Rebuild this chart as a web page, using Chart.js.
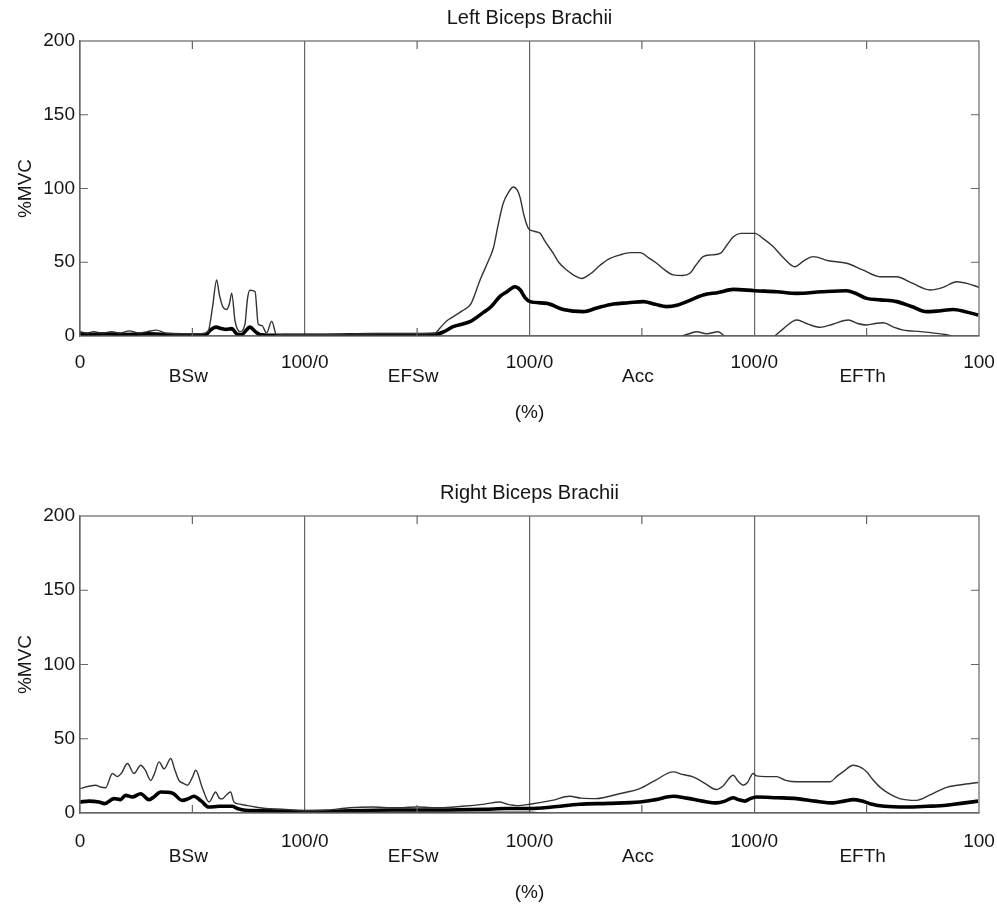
<!DOCTYPE html>
<html>
<head>
<meta charset="utf-8">
<script src="https://cdn.jsdelivr.net/npm/chart.js@4.4.0/dist/chart.umd.min.js"></script>
<style>
  body { margin: 0; background: #fff; }
  canvas { position: absolute; left: 0; }
</style>
</head>
<body>
<canvas id="leftChart" width="997" height="440" style="top:0"></canvas>
<canvas id="rightChart" width="997" height="467" style="top:440px"></canvas>
<script>
// phases along the x axis (each one 0-100 %)
const phases = ['BSw', 'EFSw', 'Acc', 'EFTh'];
const xTickValues = [0, 100, 200, 300, 400];
const xTickLabels = ['0', '100/0', '100/0', '100/0', '100'];
const yTickValues = [0, 50, 100, 150, 200];

// Left Biceps Brachii
const leftMeanX = [0, 5, 10, 20, 30, 40, 50, 56, 58, 60.5, 63, 65, 67.5, 69.7, 72, 74, 75.6, 78, 80, 85, 100,
  110, 130, 150, 158.7, 162, 166, 173.5, 179.5, 183, 187, 190, 193.5, 196, 198, 200.2, 207.7, 215, 224, 230,
  237.3, 244, 250.6, 256, 261, 266, 270, 277.3, 284, 290.7, 300.3, 310, 318.9, 330, 341.1, 345, 350, 356,
  363.4, 370, 376.7, 382, 388.6, 394, 399.7];
const leftMeanY = [1.5, 1, 1.5, 1, 1.5, 1, 0.8, 1, 4, 6, 5, 4.5, 5, 1.5, 1, 4, 6, 3, 1, 0.5, 0.5,
  0.5, 1, 1, 1.2, 3, 6.3, 9.7, 16, 20, 27, 30, 33.4, 31, 26, 23.3, 22.1, 18, 16.5, 19,
  21.7, 22.5, 23.3, 21.5, 19.9, 21, 23.3, 27.8, 29.5, 31.6, 30.7, 30, 28.9, 30, 30.7, 29, 25.5, 24.5,
  23.3, 20, 16.5, 17, 18, 16.5, 14.2];

const leftUpperX = [0, 3, 6, 10, 14, 18, 22, 26, 30, 34, 38, 42, 46, 50, 54, 57, 59, 60.8, 62, 63.5, 65.3, 66.5,
  67.5, 69, 71.2, 73.4, 74.5, 75.6, 77.9, 79.3, 81, 83, 85.3, 87.5, 90, 95, 100,
  110, 130, 150, 158, 160.2, 163, 166, 170, 174, 178, 182, 184, 186, 188.3, 190.5, 192.8, 194.5, 195.8,
  197.5, 199.5, 202, 204.7, 207, 210.6, 213, 216.5, 220, 223.2, 227, 231.4, 235, 240.3, 245, 249.2, 253,
  256.6, 260, 264, 268, 271.4, 274, 277.3, 281, 284.8, 288, 290.7, 294, 296.6, 300.3, 304, 308.5, 313,
  318.1, 322, 326.3, 333, 341.1, 348, 355.9, 363.4, 370, 378.2, 384, 390.1, 395, 400];
const leftUpperY = [3, 2, 3, 2, 3, 2, 3.5, 2, 3, 4, 2, 1.5, 1.5, 1.5, 1.5, 3, 20, 38, 28, 20, 18, 22,
  29, 10, 3, 8, 25, 31, 30, 8, 7, 2, 10, 0.5, 1, 1, 1,
  1, 1.5, 1.5, 2, 5.4, 10, 13, 17, 22, 38, 52, 60, 75, 90, 97, 101, 99, 94,
  82, 73, 71, 69.6, 64, 56, 50, 44.7, 41, 39, 42, 48, 52, 55, 56.5, 56.5, 53,
  49.3, 45, 41.4, 41, 42.5, 48, 53.8, 55, 56, 62, 67.3, 69.6, 69.6, 69.6, 66, 60.5, 53,
  47, 51, 53.8, 51, 49.3, 45, 40.2, 40.2, 36, 31.2, 33, 36.8, 35.5, 33];

const leftLowerX = [0, 50, 100, 150, 200, 250, 262, 267, 271, 274.4, 278.8, 284, 287, 292, 300, 305, 309.2,
  313, 318.9, 324, 329.3, 335, 341.9, 346, 350, 354, 357.4, 362, 366.3, 374, 381.1, 385, 388.6, 395, 400];
const leftLowerY = [-1, -1, -1, -5, -40, -15, -3, -0.5, 1.5, 2.9, 1.5, 2.9, -0.5, -5, -8, -4, 0.2,
  5, 10.8, 8, 5.9, 8, 10.8, 8.5, 7.5, 8.5, 9, 6, 4, 3, 1.8, 1, -0.5, -5, -5];

// Right Biceps Brachii
const rightMeanX = [0, 4, 8.4, 11, 15.1, 18, 20.3, 23.3, 27, 30.7, 33, 35.9, 41, 45.5, 48, 50.7, 54, 57.3, 62,
  67.7, 70, 73.6, 85, 97.3, 100, 110, 120, 140, 160, 180, 190, 200, 210, 222.2, 235, 249, 256, 263.9, 270,
  277, 283.2, 287, 290.6, 293, 295.8, 298, 301, 310, 318.8, 327, 335.1, 340, 344, 348, 351.5, 358, 367.8,
  377, 385.5, 392, 399.6];
const rightMeanY = [7.4, 8, 7.4, 6.3, 9.7, 9, 11.9, 10.8, 13, 9, 11, 14.1, 13.5, 8.5, 9.5, 11.3, 8, 4, 4.5,
  4.5, 3, 1.8, 1.5, 1, 1, 1, 1.5, 2, 2, 2.5, 3, 3, 4, 5.9, 6.5, 7.4, 9, 11.3, 10,
  8, 6.8, 8, 10.3, 9, 8, 9.5, 10.8, 10.3, 9.7, 8, 6.8, 8, 9, 8, 6.3, 4.5, 4,
  4.5, 5.2, 6.5, 8];

const rightUpperX = [0, 4, 7, 9, 11.4, 14.4, 16.6, 18.5, 21.1, 24, 27, 29, 31.5, 33, 35.2, 37.4, 40.4, 42, 44,
  46, 47.8, 50, 51.5, 54.4, 57.4, 60.4, 62, 63.3, 65, 67, 68.5, 71, 73.7, 78, 82.6, 90, 97.5, 100,
  110, 120, 130, 140, 150, 160, 170, 180, 186.7, 190, 195, 200, 210, 217.8, 223, 229.7, 240, 249, 256,
  263.9, 268, 272.8, 278, 283.2, 286, 290.6, 293, 295.1, 297, 299.5, 301, 305, 309.9, 314, 318.8, 325,
  333.6, 337, 339.5, 344, 347, 350, 353, 355.8, 360, 364.7, 372.1, 378, 385.5, 392, 399.6];
const rightUpperY = [16.4, 18, 18.7, 17.5, 17, 26.6, 24.5, 27, 33.3, 26.6, 32.2, 29, 22, 26, 34.4, 29.7, 36.7, 30, 22,
  20, 18.7, 24, 28.8, 17, 7.4, 14.1, 10, 9.5, 12, 14.1, 7.4, 6, 5.2, 4, 3, 2.5, 1.8, 1.5,
  2, 3.5, 4, 3.5, 4, 3.5, 4.5, 6, 7.4, 6, 5, 5.9, 8.5, 11.3, 10, 9.7, 13, 16.4, 22,
  27.7, 26, 24.3, 20, 15.8, 18, 25.4, 21, 18.7, 20.5, 26.6, 25, 24.5, 24.5, 22, 21, 21,
  21, 25, 27.7, 32.2, 31, 27.7, 22, 17.6, 13, 9.7, 8.5, 12, 17.2, 19, 20.5];

const rightLowerX = [0, 20, 40, 55, 65, 75, 100, 120, 150, 180, 200, 210, 230, 260, 300, 350, 400];
const rightLowerY = [-2, -8, -8, -3, -1, -0.5, 0.3, 0.3, 0.5, 0.5, 0.5, -0.5, -1, -5, -5, -5, -5];

const FONT = 'Liberation Sans, Arial, sans-serif';
const FRAME = '#666';
const TEXT = '#151515';

function pts(xs, ys) {
  return xs.map((x, i) => ({ x: x, y: ys[i] }));
}

// frame, inward ticks and all the extra labels
const decor = {
  id: 'decor',
  afterDraw(chart, args, o) {
    const { ctx, chartArea: a, scales } = chart;
    const x = scales.x, y = scales.y;
    ctx.save();
    ctx.strokeStyle = FRAME;
    ctx.lineWidth = 1.2;
    ctx.strokeRect(a.left, a.top, a.right - a.left, a.bottom - a.top);
    ctx.beginPath();
    [50, 150, 250, 350].forEach(v => {
      const px = x.getPixelForValue(v);
      ctx.moveTo(px, a.top); ctx.lineTo(px, a.top + 8);
      ctx.moveTo(px, a.bottom); ctx.lineTo(px, a.bottom - 8);
    });
    [50, 100, 150].forEach(v => {
      const py = y.getPixelForValue(v);
      ctx.moveTo(a.left, py); ctx.lineTo(a.left + 8, py);
      ctx.moveTo(a.right, py); ctx.lineTo(a.right - 8, py);
    });
    ctx.stroke();

    ctx.fillStyle = TEXT;
    ctx.textAlign = 'center';
    ctx.textBaseline = 'middle';
    ctx.font = '20px ' + FONT;
    ctx.fillText(o.title, (a.left + a.right) / 2, o.titleY);
    ctx.font = '19px ' + FONT;
    phases.forEach((p, i) => {
      ctx.fillText(p, x.getPixelForValue(i * 100 + 50) - 4, a.bottom + o.phaseGap);
    });
    ctx.fillText('(%)', x.getPixelForValue(200), a.bottom + o.unitGap);
    ctx.translate(26, (a.top + a.bottom) / 2);
    ctx.rotate(-Math.PI / 2);
    ctx.fillText('%MVC', 0, 0);
    ctx.restore();
  }
};

function makePanel(id, cfg) {
  const canvas = document.getElementById(id);
  const H = canvas.height;
  new Chart(canvas, {
    type: 'line',
    data: {
      datasets: [
        { data: pts(cfg.upX, cfg.upY), borderColor: '#333', borderWidth: 1.4 },
        { data: pts(cfg.loX, cfg.loY), borderColor: '#333', borderWidth: 1.4 },
        { data: pts(cfg.meanX, cfg.meanY), borderColor: '#000', borderWidth: 3.6 }
      ].map(d => Object.assign(d, { pointRadius: 0, fill: false, clip: 0, cubicInterpolationMode: 'monotone' }))
    },
    options: {
      responsive: false,
      animation: false,
      events: [],
      layout: { padding: { left: 0, right: 18, top: cfg.plotTop, bottom: 0 } },
      plugins: {
        legend: { display: false },
        tooltip: { enabled: false },
        decor: { title: cfg.title, titleY: cfg.titleY, phaseGap: cfg.phaseGap, unitGap: cfg.unitGap }
      },
      scales: {
        x: {
          type: 'linear', min: 0, max: 400,
          afterFit(s) { s.height = H - cfg.plotBottom; s.paddingLeft = 0; s.paddingRight = 0; },
          afterBuildTicks(s) { s.ticks = xTickValues.map(v => ({ value: v })); },
          ticks: {
            autoSkip: false, maxRotation: 0, padding: cfg.tickPad, color: TEXT,
            font: { family: FONT, size: 19 },
            callback: (v) => xTickLabels[xTickValues.indexOf(v)]
          },
          grid: {
            drawTicks: false, lineWidth: 1.2,
            color: (c) => (c.tick && c.tick.value > 0 && c.tick.value < 400) ? FRAME : 'rgba(0,0,0,0)'
          },
          border: { color: FRAME, width: 1.2 }
        },
        y: {
          min: 0, max: 200,
          afterFit(s) { s.width = 80; s.paddingTop = 0; s.paddingBottom = 0; },
          afterBuildTicks(s) { s.ticks = yTickValues.map(v => ({ value: v })); },
          ticks: { padding: 5, color: TEXT, font: { family: FONT, size: 19 } },
          grid: { display: false, drawTicks: false },
          border: { color: FRAME, width: 1.2 }
        }
      }
    },
    plugins: [decor]
  });
}

makePanel('leftChart', {
  title: 'Left Biceps Brachii', titleY: 18, plotTop: 41, plotBottom: 336,
  tickPad: 15, phaseGap: 41, unitGap: 77,
  meanX: leftMeanX, meanY: leftMeanY, upX: leftUpperX, upY: leftUpperY, loX: leftLowerX, loY: leftLowerY
});
makePanel('rightChart', {
  title: 'Right Biceps Brachii', titleY: 53, plotTop: 76, plotBottom: 373,
  tickPad: 17, phaseGap: 44, unitGap: 80,
  meanX: rightMeanX, meanY: rightMeanY, upX: rightUpperX, upY: rightUpperY, loX: rightLowerX, loY: rightLowerY
});
</script>
</body>
</html>
